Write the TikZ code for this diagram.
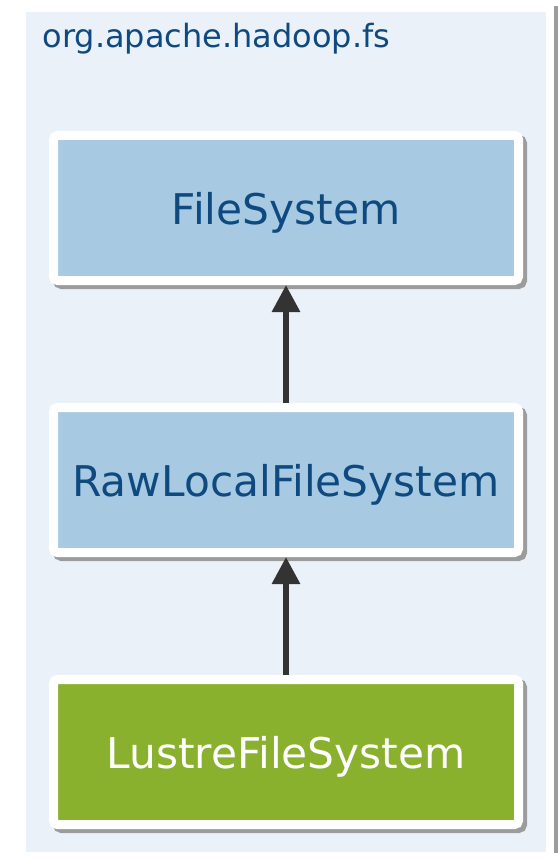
\documentclass[tikz,border=0pt]{standalone}
\usepackage{fontspec}
\setmainfont{DejaVu Sans}
\usetikzlibrary{arrows.meta,shadows}
\definecolor{PkgPanel}{HTML}{EAF1F9}
\definecolor{PkgEdge}{HTML}{9C9C9C}
\definecolor{ClsBlue}{HTML}{A7CAE2}
\definecolor{ClsGreen}{HTML}{8AB12E}
\definecolor{ClsText}{HTML}{0E4A80}
\definecolor{ArrowGray}{HTML}{333333}

\tikzset{
  clsbox/.style={draw=white,line width=9pt,rounded corners=4pt,fill=ClsBlue,
    minimum width=465pt,minimum height=145pt,inner sep=0pt,text depth=0pt,
    text=ClsText,font=\fontsize{42.3}{48}\selectfont,
    drop shadow={shadow xshift=4pt,shadow yshift=-4pt,fill=PkgEdge,
      draw=PkgEdge,line width=9pt,opacity=1}},
  extends/.style={ArrowGray,line width=6pt,-{Triangle[width=27pt,length=27pt]}}
}

\begin{document}
\begin{tikzpicture}[x=1pt,y=-1pt]
  \useasboundingbox (0,0) rectangle (558,858);
  % package frame
  \fill[PkgEdge] (554,6) rectangle (558,853);
  \fill[PkgPanel] (26,12) rectangle (546,852);
  \node[anchor=base west,ClsText,font=\fontsize{32}{36}\selectfont] (pkg) at (39,48) {org.apache.hadoop.fs};
  % classes
  \node[clsbox] (fs) at (286,208) {FileSystem};
  \node[clsbox] (raw) at (286,480) {RawLocalFileSystem};
  \node[clsbox,fill=ClsGreen,text=white] (lustre) at (286,752) {LustreFileSystem};
  % inheritance
  \draw[extends] (raw) -- (fs);
  \draw[extends] (lustre) -- (raw);
\end{tikzpicture}
\end{document}
